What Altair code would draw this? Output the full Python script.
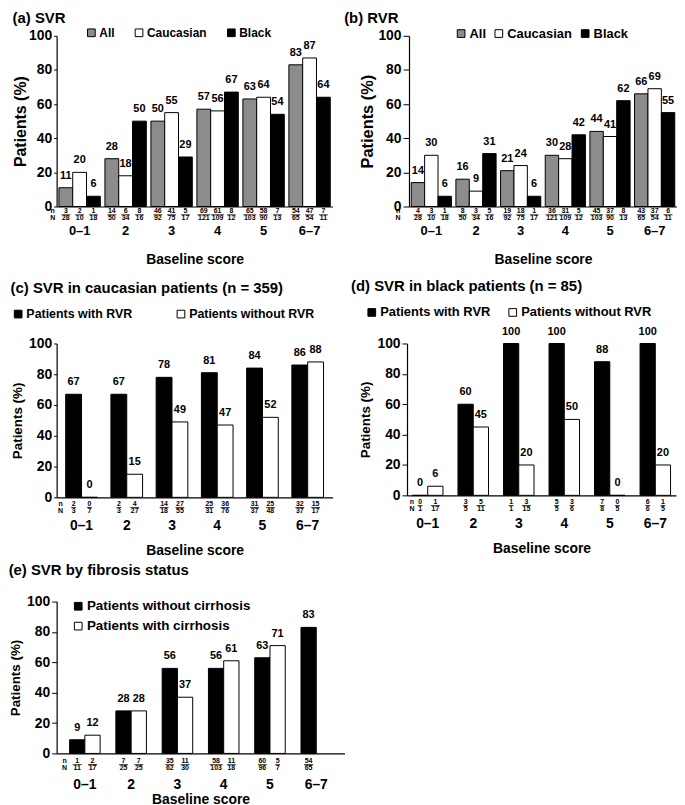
import altair as alt
import pandas as pd

FONT = "Liberation Sans"
cats = ["0–1", "2", "3", "4", "5", "6–7"]

# (a) SVR
a_series = ["All", "Caucasian", "Black"]
a_all = [11, 28, 50, 57, 63, 83]
a_all_n = [3, 14, 46, 69, 65, 54]
a_all_N = [28, 50, 92, 121, 103, 65]
a_cau = [20, 18, 55, 56, 64, 87]
a_cau_n = [2, 6, 41, 61, 58, 47]
a_cau_N = [10, 34, 75, 109, 90, 54]
a_blk = [6, 50, 29, 67, 54, 64]
a_blk_n = [1, 8, 5, 8, 7, 7]
a_blk_N = [18, 16, 17, 12, 13, 11]

# (b) RVR
b_all = [14, 16, 21, 30, 44, 66]
b_all_n = [4, 8, 19, 36, 45, 43]
b_all_N = [28, 50, 92, 121, 103, 65]
b_cau = [30, 9, 24, 28, 41, 69]
b_cau_n = [3, 3, 18, 31, 37, 37]
b_cau_N = [10, 34, 75, 109, 90, 54]
b_blk = [6, 31, 6, 42, 62, 55]
b_blk_n = [1, 5, 1, 5, 8, 6]
b_blk_N = [18, 16, 17, 12, 13, 11]

# (c) SVR in caucasian patients
rvr_series = ["Patients with RVR", "Patients without RVR"]
c_with = [67, 67, 78, 81, 84, 86]
c_with_n = [2, 2, 14, 25, 31, 32]
c_with_N = [3, 3, 18, 31, 37, 37]
c_wo = [0, 15, 49, 47, 52, 88]
c_wo_n = [0, 4, 27, 36, 25, 15]
c_wo_N = [7, 27, 55, 76, 48, 17]

# (d) SVR in black patients
d_with = [0, 60, 100, 100, 88, 100]
d_with_n = [0, 3, 1, 5, 7, 6]
d_with_N = [1, 5, 1, 5, 8, 6]
d_wo = [6, 45, 20, 50, 0, 20]
d_wo_n = [1, 5, 3, 3, 0, 1]
d_wo_N = [17, 11, 15, 6, 5, 5]

# (e) SVR by fibrosis status
e_series = ["Patients without cirrhosis", "Patients with cirrhosis"]
e_noc = [9, 28, 56, 56, 63, 83]
e_noc_n = [1, 7, 35, 58, 60, 54]
e_noc_N = [11, 25, 62, 103, 96, 65]
e_cir = [12, 28, 37, 61, 71, None]
e_cir_n = [2, 7, 11, 11, 5, None]
e_cir_N = [17, 25, 30, 18, 7, None]

HATCH = "#8c8c8c"


def frame(series, vals, ns, Ns):
    rows = []
    for s, v, n, N in zip(series, vals, ns, Ns):
        for c, vv, nn, NN in zip(cats, v, n, N):
            if vv is None:
                continue
            rows.append({"cat": c, "series": s, "value": vv,
                         "n": str(nn), "N": str(NN)})
    return pd.DataFrame(rows)


def panel(df, series, colors, w, h, title, legend, pi, po, frac, nx,
          cat_pad, cat_size, xt_pad, yt_size, yt_pad, tick_size, toff, tdx=0,
          xt_size=14):
    x_enc = alt.X("cat:N",
                  scale=alt.Scale(type="band", domain=cats,
                                  paddingInner=pi, paddingOuter=po),
                  axis=alt.Axis(title="Baseline score", labelAngle=0, ticks=False,
                                labelPadding=cat_pad, labelFontSize=cat_size,
                                labelFontWeight="bold", labelColor="black",
                                titleFontSize=xt_size, titleFontWeight="bold",
                                titleColor="black", titlePadding=xt_pad,
                                domainColor="black", domainWidth=1.2))
    xo_enc = alt.XOffset("series:N",
                         scale=alt.Scale(type="band", domain=series,
                                         paddingInner=0, paddingOuter=0))
    y_axis = alt.Axis(title="Patients (%)", values=[0, 20, 40, 60, 80, 100],
                      grid=False, tickColor="black", tickSize=tick_size,
                      labelFontSize=14, labelFontWeight="bold",
                      labelColor="black", labelPadding=2,
                      labelOverlap=False,
                      titleFontSize=yt_size, titleFontWeight="bold",
                      titleColor="black", titlePadding=yt_pad,
                      domainColor="black", domainWidth=1.2)
    y_scale = alt.Scale(domain=[0, 100])
    base = alt.Chart(df).encode(x=x_enc, xOffset=xo_enc)
    bars = base.mark_bar(stroke="black", strokeWidth=1).encode(
        y=alt.Y("value:Q", scale=y_scale, axis=y_axis),
        fill=alt.Fill("series:N",
                      scale=alt.Scale(domain=series, range=colors),
                      legend=alt.Legend(**legend)),
    )
    vals = base.mark_text(dy=-12, fontSize=11, fontWeight="bold",
                          color="black").encode(
        y=alt.Y("value:Q", scale=y_scale, axis=y_axis), text="value:Q")
    num = base.mark_text(fontSize=7, fontWeight="bold", color="black").encode(
        y=alt.value(h + frac[0]), text="n:N")
    line = base.mark_bar(color="black").transform_calculate(
        w="max(length(datum.n), length(datum.N)) * 4 + 1"
    ).encode(y=alt.value(h + frac[1]), y2=alt.value(h + frac[1] + 0.8),
             size=alt.Size("w:Q", scale=None, legend=None))
    den = base.mark_text(fontSize=7, fontWeight="bold", color="black").encode(
        y=alt.value(h + frac[2]), text="N:N")
    one = pd.DataFrame({"k": [0]})
    nlab = alt.Chart(one).mark_text(text="n", fontSize=7, fontWeight="bold",
                                    color="black").encode(
        x=alt.value(nx), y=alt.value(h + frac[0]))
    Nlab = alt.Chart(one).mark_text(text="N", fontSize=7, fontWeight="bold",
                                    color="black").encode(
        x=alt.value(nx), y=alt.value(h + frac[2]))
    return alt.layer(bars, vals, num, line, den, nlab, Nlab).properties(
        width=w, height=h,
        title=alt.TitleParams(title, anchor="start", frame="bounds", fontSize=15,
                              fontWeight="bold", color="black", offset=toff,
                              dx=tdx),
    )


def leg(x, y, font, colpad, direction="horizontal", rowpad=2):
    return dict(orient="none", legendX=x, legendY=y, direction=direction,
                title=None, symbolType="square", symbolSize=60,
                symbolStrokeColor="black", symbolStrokeWidth=1,
                labelFontSize=font, labelFontWeight="bold", labelColor="black",
                labelLimit=400,
                columnPadding=colpad, rowPadding=rowpad, labelOffset=2)


col3 = [HATCH, "white", "black"]
col2 = ["black", "white"]

pa = panel(frame(a_series, [a_all, a_cau, a_blk], [a_all_n, a_cau_n, a_blk_n],
                 [a_all_N, a_cau_N, a_blk_N]),
           a_series, col3, 278, 172, "(a) SVR", leg(29, -9, 12, 18),
           0.1, 0.05, (5, 8, 12), -4, 18, 13, 15, 16, 0, 3, 1)
pb = panel(frame(a_series, [b_all, b_cau, b_blk], [b_all_n, b_cau_n, b_blk_n],
                 [b_all_N, b_cau_N, b_blk_N]),
           a_series, col3, 270, 172, "(b) RVR", leg(46, -9, 13, 6),
           0.1, 0.05, (5, 8, 12), -11, 18, 13, 15, 16.5, 2, 6, 1, -16)
pc = panel(frame(rvr_series, [c_with, c_wo], [c_with_n, c_wo_n], [c_with_N, c_wo_N]),
           rvr_series, col2, 278, 155, "(c) SVR in caucasian patients (n = 359)",
           leg(-45, -36, 12.5, 42), 0.3, 0.2, (7, 10, 14), 4, 21, 14, 12, 13.5, 4, 3, 12)
pd_ = panel(frame(rvr_series, [d_with, d_wo], [d_with_n, d_wo_n], [d_with_N, d_wo_N]),
            rvr_series, col2, 271, 153, "(d) SVR in black patients (n = 85)",
            leg(-42, -38, 13, 15), 0.33, 0.12, (7, 10, 14), 5, 21, 14, 12, 13.5, 4, 5, 12, -8)
pe = panel(frame(e_series, [e_noc, e_cir], [e_noc_n, e_cir_n], [e_noc_N, e_cir_N]),
           e_series, col2, 290, 153, "(e) SVR by fibrosis status",
           leg(15, -2, 13.5, 10, "vertical", 5), 0.34, 0.28, (8, 11, 15), 8, 24, 14, 1, 13.5, 4, 5, 17)

IND = dict(x="independent", y="independent", xOffset="independent", fill="independent")
row1 = alt.hconcat(pa, pb, spacing=11).resolve_scale(**IND)
row2 = alt.hconcat(pc, pd_, spacing=18).resolve_scale(**IND)
top = alt.vconcat(row1, row2, spacing=13).resolve_scale(**IND)
chart = alt.vconcat(top, pe, spacing=5).resolve_scale(**IND).configure(
    font=FONT, padding=0
).configure_view(stroke=None)

chart.save("out.html", embed_options={"renderer": "svg", "actions": False})
